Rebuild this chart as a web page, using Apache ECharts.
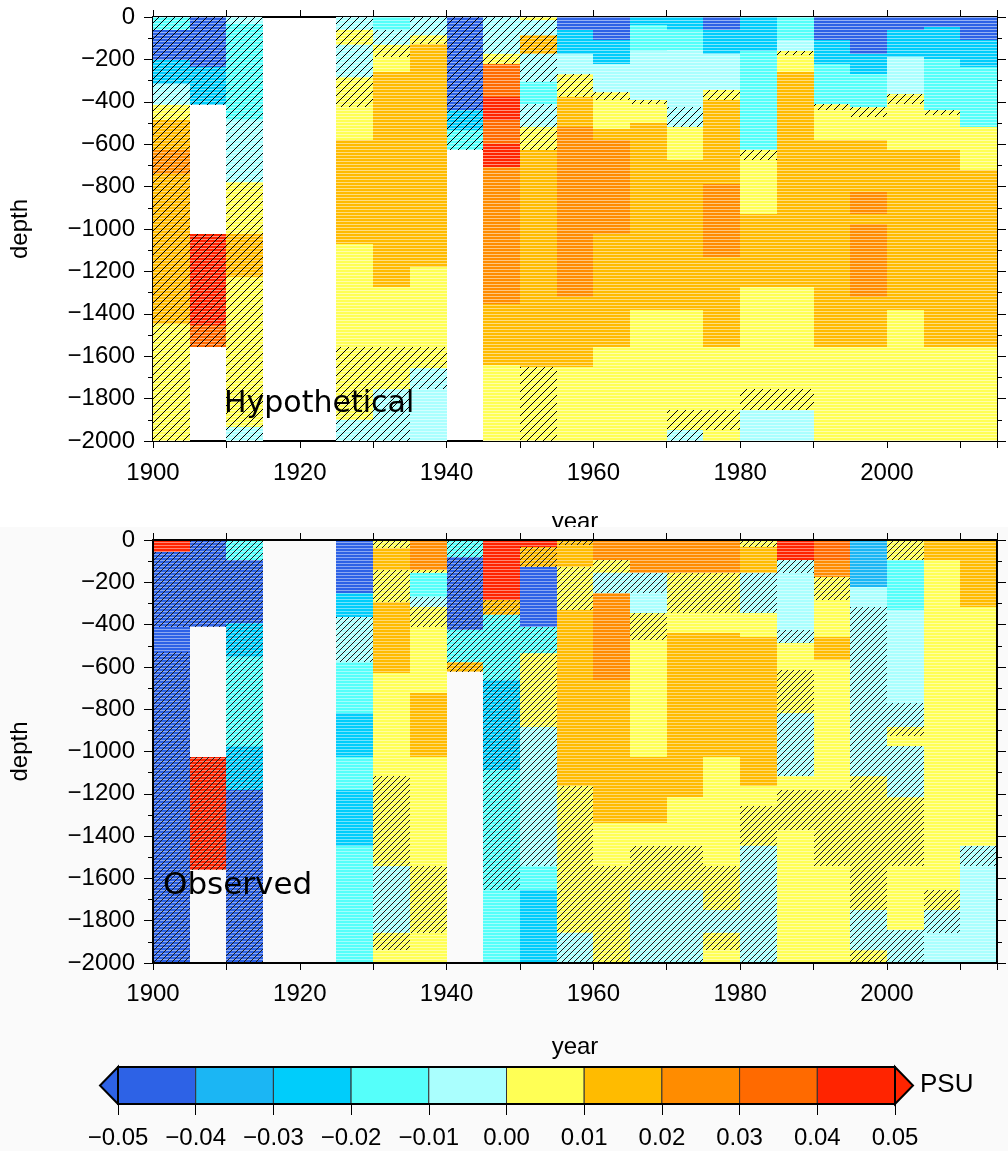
<!DOCTYPE html>
<html><head><meta charset="utf-8">
<script src="https://cdn.jsdelivr.net/npm/echarts@6/dist/echarts.min.js"></script>
<style>html,body{margin:0;padding:0;background:#fff}#c{width:1008px;height:1151px}</style>
</head><body><div id="c"></div>
<script>
// colour scale (PSU)
const psuLevels = [-0.05,-0.04,-0.03,-0.02,-0.01,0,0.01,0.02,0.03,0.04,0.05];
const psuColors = ['#2d62e6','#1bb6f4','#00cdfb','#55fffa','#aafffe','#ffff55','#ffbb00','#ff8c00','#ff6a00','#ff2400'];

// Hypothetical: each segment = [topDepth, bottomDepth, value, hatched]
const H1900 = [[0,63,-0.015,1],[63,204,-0.045,1],[204,314,-0.025,1],[314,416,-0.005,1],[416,487,0.005,1],[487,629,0.015,1],[629,739,0.025,1],[739,1446,0.015,1],[1446,2000,0.005,1]];
const H1905 = [[0,236,-0.045,1],[236,416,-0.025,1],[1025,1454,0.045,1],[1454,1556,0.035,1]];
const H1910 = [[0,31,-0.005,1],[31,487,-0.015,1],[487,778,-0.005,1],[778,1025,0.005,1],[1025,1226,0.015,1],[1226,1934,0.005,1],[1934,2000,-0.005,1]];
const H1925 = [[0,63,-0.005,1],[63,134,0.005,1],[134,283,-0.005,1],[283,424,0.005,1],[424,582,0.005,0],[582,1069,0.015,0],[1069,1556,0.005,0],[1556,1902,0.005,1],[1902,2000,-0.005,1]];
const H1930 = [[0,63,-0.015,0],[63,134,-0.005,1],[134,189,0.005,1],[189,259,0.005,0],[259,1273,0.015,0],[1273,1556,0.005,0],[1556,1753,0.005,1],[1753,2000,-0.005,1]];
const H1935 = [[0,86,-0.005,1],[86,126,0.005,1],[126,1179,0.015,0],[1179,1556,0.005,0],[1556,1658,0.005,1],[1658,1753,-0.005,1],[1753,2000,-0.005,0]];
const H1940 = [[0,440,-0.045,1],[440,534,-0.025,1],[534,629,-0.015,1]];
const H1945 = [[0,173,-0.005,1],[173,220,0.005,1],[220,377,0.035,0],[377,487,0.045,0],[487,597,0.035,0],[597,707,0.045,0],[707,1352,0.025,0],[1352,1643,0.015,0],[1643,2000,0.005,0]];
const H1950 = [[0,16,0.005,1],[16,86,-0.005,1],[86,173,0.015,1],[173,306,-0.005,1],[306,409,-0.015,0],[409,519,-0.005,1],[519,629,0.005,1],[629,1651,0.015,0],[1651,2000,0.005,1]];
const H1955 = [[0,63,-0.045,0],[63,173,-0.025,0],[173,267,-0.005,0],[267,377,0.005,1],[377,519,0.015,0],[519,1320,0.025,0],[1320,1651,0.015,0],[1651,2000,0.005,0]];
const H1960 = [[0,110,-0.045,0],[110,220,-0.025,0],[220,354,-0.005,0],[354,393,0.005,1],[393,527,0.005,0],[527,582,0.015,0],[582,1022,0.025,0],[1022,1556,0.015,0],[1556,2000,0.005,0]];
const H1965 = [[0,40,-0.025,0],[40,160,-0.015,0],[160,390,-0.005,0],[390,410,0.005,1],[410,500,0.005,0],[500,1383,0.015,0],[1383,2000,0.005,0]];
const H1970 = [[0,63,-0.025,0],[63,157,-0.015,0],[157,424,-0.005,0],[424,519,-0.005,1],[519,676,0.005,0],[676,1383,0.015,0],[1383,1855,0.005,0],[1855,1950,0.005,1],[1950,2000,-0.005,1]];
const H1975 = [[0,63,-0.045,0],[63,173,-0.025,0],[173,346,-0.005,0],[346,393,0.005,1],[393,786,0.015,0],[786,1132,0.025,0],[1132,1556,0.015,0],[1556,1855,0.005,0],[1855,1950,0.005,1],[1950,2000,0.005,0]];
const H1980 = [[0,63,-0.025,0],[63,160,-0.025,0],[160,629,-0.015,0],[629,676,0.005,1],[676,928,0.005,0],[928,1273,0.015,0],[1273,1753,0.005,0],[1753,1855,0.005,1],[1855,2000,-0.005,0]];
const H1985 = [[0,110,-0.015,0],[110,160,-0.005,0],[160,180,0.005,1],[180,259,0.005,0],[259,1273,0.015,0],[1273,1753,0.005,0],[1753,1855,0.005,1],[1855,2000,-0.005,0]];
const H1990 = [[0,110,-0.045,0],[110,220,-0.025,0],[220,409,-0.015,0],[409,440,0.005,1],[440,582,0.005,0],[582,1556,0.015,0],[1556,2000,0.005,0]];
const H1995 = [[0,173,-0.045,0],[173,267,-0.025,0],[267,424,-0.015,0],[424,472,0.005,1],[472,582,0.005,0],[582,825,0.015,0],[825,928,0.025,0],[928,975,0.015,0],[975,1320,0.025,0],[1320,1556,0.015,0],[1556,2000,0.005,0]];
const H2000 = [[0,63,-0.045,0],[63,189,-0.025,0],[189,361,-0.005,0],[361,409,0.005,1],[409,629,0.005,0],[629,1383,0.015,0],[1383,2000,0.005,0]];
const H2005 = [[0,47,-0.045,0],[47,200,-0.025,0],[200,440,-0.015,0],[440,460,0.005,1],[460,629,0.005,0],[629,1556,0.015,0],[1556,2000,0.005,0]];
const H2010 = [[0,110,-0.045,0],[110,236,-0.025,0],[236,519,-0.015,0],[519,723,0.005,0],[723,1556,0.015,0],[1556,2000,0.005,0]];

// Observed
const O1900 = [[0,55,0.045,0],[55,410,-0.045,1],[410,528,-0.045,0],[528,2000,-0.045,1]];
const O1905 = [[0,410,-0.045,1],[1024,1560,0.045,1]];
const O1910 = [[0,95,-0.015,1],[95,394,-0.045,1],[394,551,-0.025,1],[551,976,-0.015,1],[976,1181,-0.025,1],[1181,2000,-0.045,1]];
const O1925 = [[0,252,-0.045,0],[252,362,-0.025,0],[362,575,-0.005,1],[575,819,-0.015,0],[819,1024,-0.025,0],[1024,1181,-0.015,0],[1181,1449,-0.025,0],[1449,2000,-0.015,0]];
const O1930 = [[0,40,0.005,1],[40,142,0.015,0],[142,291,0.005,1],[291,630,0.015,0],[630,1118,0.005,0],[1118,1543,0.005,1],[1543,1858,-0.005,1],[1858,1937,0.005,1],[1937,2000,0.005,0]];
const O1935 = [[0,142,0.025,0],[142,157,0.005,1],[157,268,-0.015,0],[268,315,-0.005,1],[315,410,0.005,1],[410,724,0.005,0],[724,1024,0.015,0],[1024,1543,0.005,0],[1543,1858,0.005,1],[1858,2000,0.005,0]];
const O1940 = [[0,79,-0.015,1],[79,425,-0.045,1],[425,575,-0.015,1],[575,622,0.015,1]];
const O1945 = [[0,283,0.045,0],[283,354,0.015,1],[354,661,-0.015,1],[661,1087,-0.025,1],[1087,1654,-0.015,1],[1654,2000,-0.015,0]];
const O1950 = [[0,31,0.045,0],[31,126,0.015,1],[126,410,-0.045,0],[410,535,-0.015,1],[535,882,0.005,1],[882,1543,-0.005,1],[1543,1654,-0.015,0],[1654,2000,-0.025,0]];
const O1955 = [[0,24,0.015,1],[24,126,0.015,0],[126,331,0.005,1],[331,1165,0.015,0],[1165,1858,0.005,1],[1858,2000,-0.005,1]];
const O1960 = [[0,95,0.025,0],[95,157,0.005,1],[157,252,-0.005,1],[252,661,0.025,0],[661,1339,0.015,0],[1339,1543,0.005,0],[1543,2000,0.005,1]];
const O1965 = [[0,157,0.025,0],[157,252,-0.005,1],[252,346,-0.005,0],[346,472,0.005,1],[472,1024,0.005,0],[1024,1339,0.015,0],[1339,1449,0.005,0],[1449,1654,0.005,1],[1654,2000,-0.005,1]];
const O1970 = [[0,157,0.025,0],[157,346,0.005,1],[346,441,0.005,0],[441,1213,0.015,0],[1213,1449,0.005,0],[1449,1654,0.005,1],[1654,2000,-0.005,1]];
const O1975 = [[0,157,0.025,0],[157,346,0.005,1],[346,441,0.005,0],[441,1024,0.015,0],[1024,1543,0.005,0],[1543,1748,0.005,1],[1748,1858,-0.005,1],[1858,1937,0.005,1],[1937,2000,0.005,0]];
const O1980 = [[0,31,0.005,1],[31,157,0.015,0],[157,346,-0.005,1],[346,457,0.005,0],[457,1165,0.015,0],[1165,1260,0.005,0],[1260,1449,0.005,1],[1449,2000,-0.005,1]];
const O1985 = [[0,95,0.045,0],[95,157,-0.005,1],[157,425,-0.005,0],[425,488,-0.005,1],[488,614,0.005,0],[614,819,0.005,1],[819,1118,-0.005,1],[1118,1181,0.005,0],[1181,1370,0.005,1],[1370,2000,0.005,0]];
const O1990 = [[0,95,0.035,0],[95,173,0.025,0],[173,283,0.005,1],[283,457,0.005,0],[457,567,0.015,0],[567,1181,0.005,0],[1181,1543,0.005,1],[1543,2000,0.005,0]];
const O1995 = [[0,220,-0.035,0],[220,315,-0.005,0],[315,1118,-0.005,1],[1118,1748,0.005,1],[1748,1937,-0.005,1],[1937,2000,0.005,1]];
const O2000 = [[0,95,0.005,1],[95,331,-0.015,0],[331,772,-0.005,0],[772,882,-0.005,1],[882,929,0.005,1],[929,976,0.005,0],[976,1213,-0.005,1],[1213,1543,0.005,1],[1543,1843,0.005,0],[1843,2000,-0.005,1]];
const O2005 = [[0,95,0.015,0],[95,1654,0.005,0],[1654,1748,0.005,1],[1748,1858,-0.005,1],[1858,2000,-0.005,0]];
const O2010 = [[0,315,0.015,0],[315,1449,0.005,0],[1449,1543,-0.005,1],[1543,2000,-0.005,0]];

const hypColumns = [[1900,H1900],[1905,H1905],[1910,H1910],[1925,H1925],[1930,H1930],[1935,H1935],[1940,H1940],[1945,H1945],[1950,H1950],[1955,H1955],[1960,H1960],[1965,H1965],[1970,H1970],[1975,H1975],[1980,H1980],[1985,H1985],[1990,H1990],[1995,H1995],[2000,H2000],[2005,H2005],[2010,H2010]];
const obsColumns = [[1900,O1900],[1905,O1905],[1910,O1910],[1925,O1925],[1930,O1930],[1935,O1935],[1940,O1940],[1945,O1945],[1950,O1950],[1955,O1955],[1960,O1960],[1965,O1965],[1970,O1970],[1975,O1975],[1980,O1980],[1985,O1985],[1990,O1990],[1995,O1995],[2000,O2000],[2005,O2005],[2010,O2010]];
const binYears = 5;

function flatten(cols){ const out=[]; cols.forEach(([yr,segs])=>segs.forEach(s=>out.push([yr,s[0],s[1],s[2],s[3]]))); return out; }
function colorOf(v){ for(let i=0;i<psuColors.length;i++){ if(v<psuLevels[i+1]) return psuColors[i]; } return psuColors[psuColors.length-1]; }

function makeHatch(size,color,lw){
  const c=document.createElement('canvas'); c.width=size; c.height=size;
  const g=c.getContext('2d'); g.strokeStyle=color; g.lineWidth=lw;
  g.beginPath();
  g.moveTo(-1,size+1); g.lineTo(size+1,-1);
  g.moveTo(-2,2); g.lineTo(2,-2);
  g.moveTo(size-2,size+2); g.lineTo(size+2,size-2);
  g.stroke();
  return {image:c, repeat:'repeat'};
}
function makeStripe(alpha){
  const c=document.createElement('canvas'); c.width=4; c.height=3;
  const g=c.getContext('2d'); g.fillStyle='rgba(255,255,255,'+alpha+')'; g.fillRect(0,2,4,1);
  return {image:c, repeat:'repeat'};
}
const hatchTop = makeHatch(8,'#000',1);
const hatchBot = makeHatch(6,'#1a1a1a',1);
const stripeTop = makeStripe(0.5);
const stripeBot = makeStripe(0.45);

function cellRenderer(hatchPat, stripePat){
  return function(params, api){
    const x0=api.value(0), top=api.value(1), bot=api.value(2), v=api.value(3), h=api.value(4);
    const a=api.coord([x0,-top]), b=api.coord([x0+binYears,-bot]);
    const x=Math.round(a[0]), y=Math.round(a[1]);
    const shape={x:x,y:y,width:Math.round(b[0])-x,height:Math.round(b[1])-y};
    const ch=[{type:'rect',shape:shape,style:{fill:colorOf(v)}},{type:'rect',shape:shape,style:{fill:stripePat}}];
    if(h) ch.push({type:'rect',shape:shape,style:{fill:hatchPat}});
    return {type:'group',children:ch};
  };
}

const FONT='"Liberation Sans", Arial, Helvetica, sans-serif';
const lab={color:'#000',fontSize:24,fontFamily:FONT};

function xBottom(g, gap, margin, z){
  return {gridIndex:g,type:'value',position:'bottom',min:1900,max:2015,interval:10,z:z,
    axisLine:{show:true,onZero:false,lineStyle:{color:'#000',width:2}},
    axisTick:{show:true,length:7,lineStyle:{color:'#000',width:1}},
    axisLabel:Object.assign({margin:margin,formatter:v=>(v%20===0?String(v):'')},lab),
    splitLine:{show:false},
    name:'year',nameLocation:'middle',nameGap:gap,nameTextStyle:Object.assign({},lab)};
}
function xTop(g,z){
  return {gridIndex:g,type:'value',position:'top',min:1900,max:2015,interval:10,z:z,
    axisLine:{show:true,onZero:false,lineStyle:{color:'#000',width:2}},
    axisTick:{show:true,length:7,lineStyle:{color:'#000',width:1}},
    axisLabel:{show:false},splitLine:{show:false}};
}
function yLeft(g,z){
  return {gridIndex:g,type:'value',position:'left',min:-2000,max:0,interval:200,z:z,
    axisLine:{show:true,onZero:false,lineStyle:{color:'#000',width:2}},
    axisTick:{show:true,length:9,lineStyle:{color:'#000',width:1}},
    minorTick:{show:true,splitNumber:2,length:5,lineStyle:{color:'#000',width:1}},
    axisLabel:Object.assign({margin:18,formatter:v=>String(v).replace('-','\u2212')},lab),
    splitLine:{show:false},minorSplitLine:{show:false},
    name:'depth',nameLocation:'middle',nameGap:121,nameRotate:90,nameTextStyle:Object.assign({},lab)};
}
function yRight(g,z){
  return {gridIndex:g,type:'value',position:'right',min:-2000,max:0,interval:200,z:z,
    axisLine:{show:true,onZero:false,lineStyle:{color:'#000',width:2}},
    axisTick:{show:true,length:9,lineStyle:{color:'#000',width:1}},
    minorTick:{show:true,splitNumber:2,length:5,lineStyle:{color:'#000',width:1}},
    axisLabel:{show:false},splitLine:{show:false},minorSplitLine:{show:false}};
}

const barBins = psuColors.map((c,i)=>[psuLevels[i],psuLevels[i+1],i]);

const chart=echarts.init(document.getElementById('c'),null,{renderer:'canvas'});
chart.setOption({
  animation:false,
  backgroundColor:'#ffffff',
  grid:[
    {left:153,top:17,width:844,height:424},
    {left:153,top:540,width:844,height:423},
    {left:118,top:1067,width:777,height:37}
  ],
  xAxis:[
    xBottom(0,69,20,0), xTop(0,0), xBottom(1,72,19,6), xTop(1,6),
    {gridIndex:2,type:'value',min:-0.05,max:0.05,interval:0.01,z:6,
      axisLine:{show:false},
      axisTick:{show:true,length:11,lineStyle:{color:'#000',width:1}},
      axisLabel:Object.assign({margin:22,formatter:v=>v.toFixed(2).replace('-','\u2212')},lab),
      splitLine:{show:false}}
  ],
  yAxis:[
    yLeft(0,0), yRight(0,0), yLeft(1,6), yRight(1,6),
    {gridIndex:2,type:'value',min:0,max:1,show:false}
  ],
  graphic:[
    {type:'rect',left:0,top:527,z:1,shape:{width:1008,height:624},style:{fill:'#fafafa'}},
    {type:'text',left:224,top:389,z:20,style:{text:'Hypothetical',fill:'#000',font:'30px "DejaVu Sans", sans-serif'}},
    {type:'text',left:163,top:870,z:20,style:{text:'Observed',fill:'#000',font:'31px "DejaVu Sans", sans-serif'}},
    {type:'text',left:920,top:1072,z:20,style:{text:'PSU',fill:'#000',font:'26px "Liberation Sans", Arial, sans-serif'}}
  ],
  series:[
    {type:'custom',name:'Hypothetical',xAxisIndex:0,yAxisIndex:0,z:2,silent:true,clip:true,
      encode:{x:0,y:1},renderItem:cellRenderer(hatchTop,stripeTop),data:flatten(hypColumns)},
    {type:'custom',name:'Observed',xAxisIndex:2,yAxisIndex:2,z:4,silent:true,clip:true,
      encode:{x:0,y:1},renderItem:cellRenderer(hatchBot,stripeBot),data:flatten(obsColumns)},
    {type:'custom',name:'colorbar',xAxisIndex:4,yAxisIndex:4,z:4,silent:true,
      encode:{x:0,y:2},
      renderItem:function(params,api){
        const a=api.coord([api.value(0),1]), b=api.coord([api.value(1),0]), i=api.value(2);
        const ch=[{type:'rect',shape:{x:a[0],y:a[1],width:b[0]-a[0],height:b[1]-a[1]},style:{fill:psuColors[i],stroke:'#333',lineWidth:1}}];
        const mid=(a[1]+b[1])/2;
        if(i===0) ch.push({type:'polygon',shape:{points:[[a[0],a[1]],[a[0],b[1]],[a[0]-18,mid]]},style:{fill:psuColors[0],stroke:'#000',lineWidth:2}});
        if(i===psuColors.length-1) ch.push({type:'polygon',shape:{points:[[b[0],a[1]],[b[0],b[1]],[b[0]+18,mid]]},style:{fill:psuColors[i],stroke:'#000',lineWidth:2}});
        return {type:'group',children:ch};
      },
      data:barBins},
    {type:'custom',name:'colorbarFrame',xAxisIndex:4,yAxisIndex:4,z:5,silent:true,
      encode:{x:0,y:1},
      renderItem:function(params,api){
        const a=api.coord([api.value(0),1]), b=api.coord([api.value(1),0]);
        return {type:'rect',shape:{x:a[0],y:a[1],width:b[0]-a[0],height:b[1]-a[1]},style:{fill:'none',stroke:'#000',lineWidth:2}};
      },
      data:[[psuLevels[0],psuLevels[psuLevels.length-1]]]}
  ]
});
</script>
</body></html>
